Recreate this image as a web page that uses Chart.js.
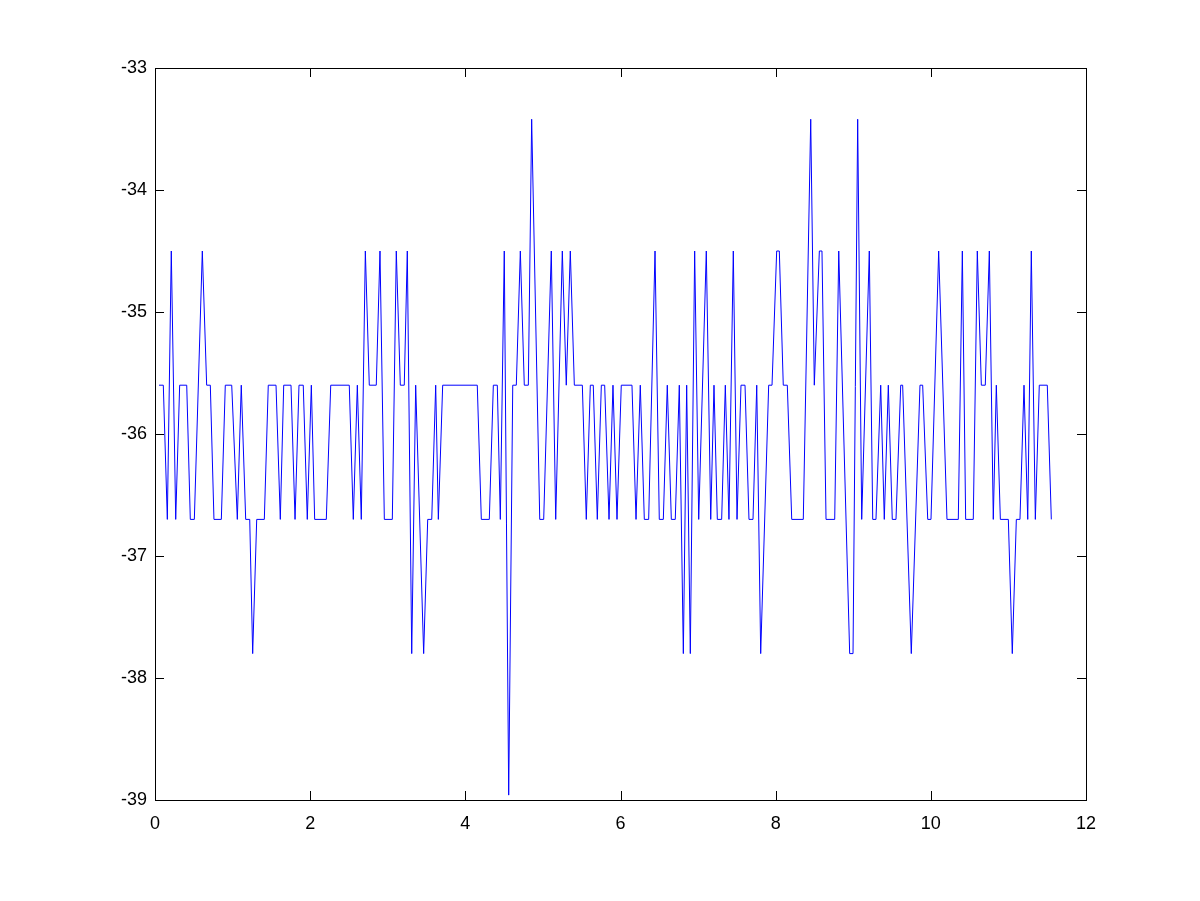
<!DOCTYPE html>
<html>
<head>
<meta charset="utf-8">
<script src="https://cdn.jsdelivr.net/npm/chart.js@4"></script>
<style>
  html, body { margin: 0; padding: 0; background: #fff; }
  #wrap { width: 1200px; height: 901px; }
</style>
</head>
<body>
<div id="wrap"><canvas id="signalChart" width="1200" height="901"></canvas></div>
<script>
// Sample times (x) and signal values (y)
const times = [
    0.052, 0.107, 0.159, 0.210, 0.267, 0.318, 0.409, 0.455, 0.507, 0.610,
    0.666, 0.713, 0.760, 0.855, 0.906, 0.989, 1.061, 1.112, 1.169, 1.221,
    1.259, 1.311, 1.409, 1.460, 1.560, 1.615, 1.659, 1.753, 1.805, 1.856,
    1.911, 1.963, 2.015, 2.058, 2.208, 2.265, 2.504, 2.556, 2.608, 2.659,
    2.711, 2.762, 2.852, 2.900, 2.956, 3.059, 3.110, 3.162, 3.213, 3.252,
    3.309, 3.360, 3.463, 3.515, 3.567, 3.618, 3.652, 3.708, 4.154, 4.206,
    4.309, 4.361, 4.412, 4.451, 4.502, 4.559, 4.611, 4.657, 4.709, 4.760,
    4.812, 4.855, 4.959, 5.010, 5.108, 5.165, 5.250, 5.301, 5.353, 5.405,
    5.508, 5.559, 5.611, 5.649, 5.701, 5.753, 5.796, 5.852, 5.903, 5.955,
    6.010, 6.148, 6.200, 6.255, 6.307, 6.363, 6.445, 6.500, 6.552, 6.603,
    6.655, 6.706, 6.758, 6.810, 6.853, 6.900, 6.956, 7.008, 7.106, 7.163,
    7.205, 7.248, 7.304, 7.351, 7.398, 7.454, 7.502, 7.553, 7.605, 7.656,
    7.708, 7.756, 7.807, 7.910, 7.953, 8.013, 8.047, 8.098, 8.150, 8.207,
    8.356, 8.452, 8.498, 8.563, 8.597, 8.649, 8.761, 8.813, 8.954, 8.997,
    9.057, 9.109, 9.207, 9.251, 9.293, 9.354, 9.400, 9.452, 9.503, 9.551,
    9.612, 9.637, 9.748, 9.860, 9.895, 9.960, 10.002, 10.101, 10.208, 10.354,
    10.406, 10.449, 10.547, 10.599, 10.651, 10.702, 10.754, 10.805, 10.844, 10.896,
    10.999, 11.050, 11.102, 11.149, 11.201, 11.249, 11.295, 11.347, 11.398, 11.501,
    11.553
];
const values = [
    -35.6, -35.6, -36.7, -34.5, -36.7, -35.6, -35.6, -36.7, -36.7, -34.5,
    -35.6, -35.6, -36.7, -36.7, -35.6, -35.6, -36.7, -35.6, -36.7, -36.7,
    -37.8, -36.7, -36.7, -35.6, -35.6, -36.7, -35.6, -35.6, -36.7, -35.6,
    -35.6, -36.7, -35.6, -36.7, -36.7, -35.6, -35.6, -36.7, -35.6, -36.7,
    -34.5, -35.6, -35.6, -34.5, -36.7, -36.7, -34.5, -35.6, -35.6, -34.5,
    -37.8, -35.6, -37.8, -36.7, -36.7, -35.6, -36.7, -35.6, -35.6, -36.7,
    -36.7, -35.6, -35.6, -36.7, -34.5, -38.96, -35.6, -35.6, -34.5, -35.6,
    -35.6, -33.42, -36.7, -36.7, -34.5, -36.7, -34.5, -35.6, -34.5, -35.6,
    -35.6, -36.7, -35.6, -35.6, -36.7, -35.6, -35.6, -36.7, -35.6, -36.7,
    -35.6, -35.6, -36.7, -35.6, -36.7, -36.7, -34.5, -36.7, -36.7, -35.6,
    -36.7, -36.7, -35.6, -37.8, -35.6, -37.8, -34.5, -36.7, -34.5, -36.7,
    -35.6, -36.7, -36.7, -35.6, -36.7, -34.5, -36.7, -35.6, -35.6, -36.7,
    -36.7, -35.6, -37.8, -35.6, -35.6, -34.5, -34.5, -35.6, -35.6, -36.7,
    -36.7, -33.42, -35.6, -34.5, -34.5, -36.7, -36.7, -34.5, -37.8, -37.8,
    -33.42, -36.7, -34.5, -36.7, -36.7, -35.6, -36.7, -35.6, -36.7, -36.7,
    -35.6, -35.6, -37.8, -35.6, -35.6, -36.7, -36.7, -34.5, -36.7, -36.7,
    -34.5, -36.7, -36.7, -34.5, -35.6, -35.6, -34.5, -36.7, -35.6, -36.7,
    -36.7, -37.8, -36.7, -36.7, -35.6, -36.7, -34.5, -36.7, -35.6, -35.6,
    -36.7
];

// Axis tick values
const xTicks = [0, 2, 4, 6, 8, 10, 12];
const yTicks = [-39, -38, -37, -36, -35, -34, -33];

const points = times.map((t, i) => ({ x: t, y: values[i] }));

// Box around the axes with inward tick marks (MATLAB look)
const boxAxes = {
    id: 'boxAxes',
    afterDraw(chart) {
        const ctx = chart.ctx;
        const area = chart.chartArea;
        const xs = chart.scales.x;
        const ys = chart.scales.y;
        const len = 9;
        ctx.save();
        ctx.strokeStyle = '#000';
        ctx.lineWidth = 1;
        ctx.beginPath();
        xTicks.forEach(v => {
            const px = Math.round(xs.getPixelForValue(v)) + 0.5;
            ctx.moveTo(px, area.bottom);
            ctx.lineTo(px, area.bottom - len);
            ctx.moveTo(px, area.top);
            ctx.lineTo(px, area.top + len);
        });
        yTicks.forEach(v => {
            const py = Math.round(ys.getPixelForValue(v)) + 0.5;
            ctx.moveTo(area.left, py);
            ctx.lineTo(area.left + len, py);
            ctx.moveTo(area.right, py);
            ctx.lineTo(area.right - len, py);
        });
        ctx.stroke();
        ctx.strokeRect(Math.round(area.left) + 0.5, Math.round(area.top) + 0.5,
            Math.round(area.right - area.left), Math.round(area.bottom - area.top));
        ctx.restore();
    }
};

const ctx = document.getElementById('signalChart').getContext('2d');
new Chart(ctx, {
    type: 'scatter',
    data: {
        datasets: [{
            data: points,
            showLine: true,
            borderColor: '#0000ff',
            borderWidth: 1,
            pointRadius: 0,
            tension: 0
        }]
    },
    options: {
        responsive: false,
        animation: false,
        layout: { padding: { top: 68, right: 114, left: 0, bottom: 0 } },
        plugins: {
            legend: { display: false },
            tooltip: { enabled: false }
        },
        scales: {
            x: {
                type: 'linear',
                min: 0,
                max: 12,
                afterFit(scale) { scale.height = 101; },
                afterBuildTicks(scale) { scale.ticks = xTicks.map(v => ({ value: v })); },
                grid: { display: false, drawTicks: false },
                border: { display: false },
                ticks: {
                    color: '#000',
                    padding: 13,
                    maxRotation: 0,
                    font: { family: 'Liberation Sans', size: 18 }
                }
            },
            y: {
                type: 'linear',
                min: -39,
                max: -33,
                afterFit(scale) { scale.width = 155; },
                afterBuildTicks(scale) { scale.ticks = yTicks.map(v => ({ value: v })); },
                grid: { display: false, drawTicks: false },
                border: { display: false },
                ticks: {
                    color: '#000',
                    padding: 8,
                    font: { family: 'Liberation Sans', size: 18 }
                }
            }
        }
    },
    plugins: [boxAxes]
});
</script>
</body>
</html>
